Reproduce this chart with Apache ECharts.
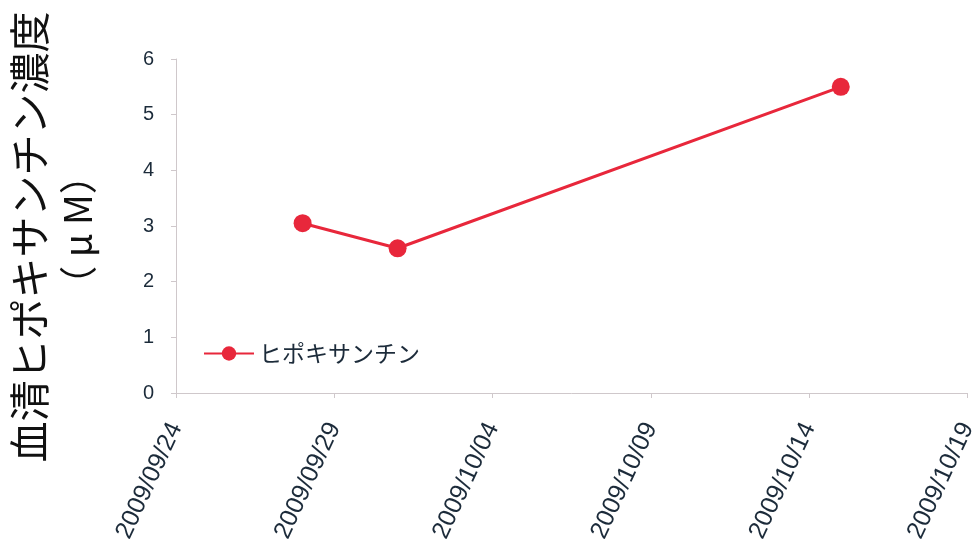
<!DOCTYPE html>
<html>
<head>
<meta charset="utf-8">
<script src="https://cdn.jsdelivr.net/npm/echarts@6/dist/echarts.min.js"></script>
<style>
  html, body { margin: 0; padding: 0; background: #fff; }
  #chart { width: 980px; height: 559px; }
</style>
</head>
<body>
<div id="chart"></div>
<script>
// Measurement dates and serum hypoxanthine values (μM)
const sampleDates = ['2009/09/28', '2009/10/01', '2009/10/15'];
const hypoxanthine = [3.05, 2.6, 5.5];
const seriesName = 'ヒポキサンチン';
const axisStartDate = '2009/09/24';
const axisEndDate = '2009/10/19';
const yTitleLine1 = '血清ヒポキサンチン濃度';
const yTitleLine2 = '（ μ M）';

const DAY = 86400000;
function toDate(s) {
  const [y, m, d] = s.split('/').map(Number);
  return Date.UTC(y, m - 1, d);
}
const base = toDate(axisStartDate);
function dayOffset(s) { return Math.round((toDate(s) - base) / DAY); }
function offsetLabel(v) {
  const d = new Date(base + v * DAY);
  const mm = String(d.getUTCMonth() + 1).padStart(2, '0');
  const dd = String(d.getUTCDate()).padStart(2, '0');
  return d.getUTCFullYear() + '/' + mm + '/' + dd;
}

const points = sampleDates.map((s, i) => [dayOffset(s), hypoxanthine[i]]);
const textColor = '#1c2b3a';
const red = '#e8273b';
const axisGray = '#cfc8cb';
const latin = '"Liberation Sans", Arial, sans-serif';
const cjk = '"Noto Sans CJK JP", "Liberation Sans", sans-serif';

const chart = echarts.init(document.getElementById('chart'));
chart.setOption({
  backgroundColor: '#ffffff',
  animation: false,
  grid: { left: 176, right: 10, top: 59, bottom: 166 },
  legend: {
    left: 198, top: 337,
    itemWidth: 50, itemHeight: 18, itemGap: 4,
    textStyle: { fontFamily: cjk, fontSize: 23, color: textColor },
    data: [seriesName]
  },
  xAxis: {
    type: 'value',
    min: 0,
    max: dayOffset(axisEndDate),
    interval: 5,
    axisLine: { show: true, lineStyle: { color: axisGray, width: 1 } },
    axisTick: { show: true, length: 5, lineStyle: { color: axisGray } },
    splitLine: { show: false },
    axisLabel: {
      rotate: 65,
      margin: 31,
      fontFamily: latin,
      fontSize: 25,
      color: textColor,
      formatter: offsetLabel
    }
  },
  yAxis: {
    type: 'value',
    min: 0, max: 6, interval: 1,
    axisLine: { show: true, lineStyle: { color: axisGray, width: 1 } },
    axisTick: { show: true, length: 5, lineStyle: { color: axisGray } },
    splitLine: { show: false },
    axisLabel: { margin: 22, fontFamily: latin, fontSize: 20, color: textColor }
  },
  graphic: [
    {
      type: 'text', x: 29, y: 237, rotation: Math.PI / 2,
      style: {
        text: yTitleLine1, fontFamily: cjk, fontSize: 41, fontWeight: 'normal',
        fill: '#111', align: 'center', verticalAlign: 'middle'
      }
    },
    {
      type: 'text', x: 78, y: 230, rotation: Math.PI / 2,
      style: {
        text: yTitleLine2, fontFamily: cjk, fontSize: 38,
        fill: '#111', align: 'center', verticalAlign: 'middle'
      }
    }
  ],
  series: [{
    name: seriesName,
    type: 'line',
    data: points,
    symbol: 'circle',
    symbolSize: 18,
    itemStyle: { color: red },
    lineStyle: { color: red, width: 3 }
  }]
});
</script>
</body>
</html>
